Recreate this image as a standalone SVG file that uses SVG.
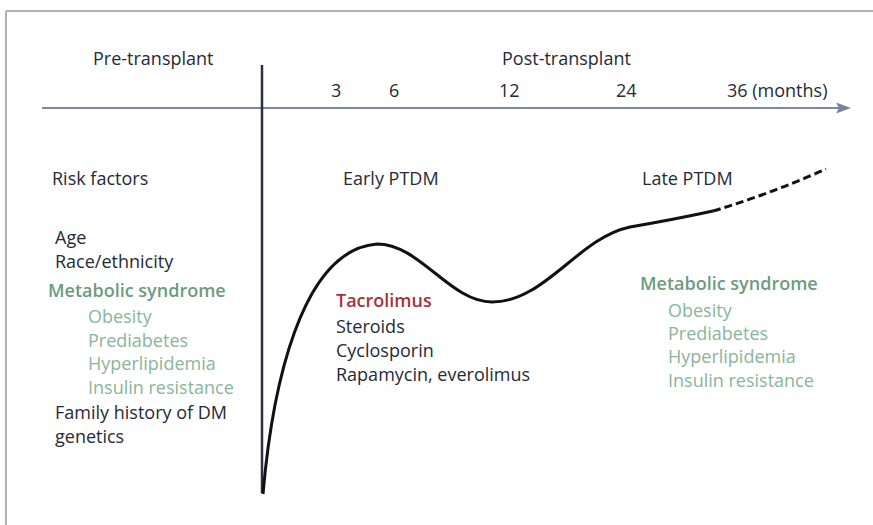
<svg xmlns="http://www.w3.org/2000/svg" width="873" height="525" viewBox="0 0 873 525">
<style>
text{font-family:"Open Sans","Liberation Sans",sans-serif;font-size:18px;fill:#262a38}
.g{fill:#6a9c80;font-weight:600}
.lg{fill:#88b69a}
.r{fill:#a8323c;font-weight:600}
</style>
<rect width="873" height="525" fill="#fff"/>
<g id="frame" stroke="#9a9a9a" stroke-width="1.5" fill="none">
<line x1="6" y1="11" x2="873" y2="11"/>
<line x1="6" y1="11" x2="6" y2="525"/>
</g>
<g id="connectors">
<line x1="42" y1="108" x2="840" y2="108" stroke="#8088a6" stroke-width="2"/>
<polygon points="851,108 836,102.5 839,108 836,113.5" fill="#7a82a2"/>
<line x1="262" y1="65" x2="262" y2="493" stroke="#2b3142" stroke-width="2.5"/>
<path d="M263,494 C272,390 300,250 377,244 C420,244 450,302 492,302 C545,302 578,238 630,227 C665,221 690,216 713,211" fill="none" stroke="#111" stroke-width="3"/>
<path d="M713,211 Q770,194 826,169" fill="none" stroke="#111" stroke-width="3" stroke-dasharray="8,4"/>
</g>
<g id="header">
<text x="93" y="65">Pre-transplant</text>
<text x="502" y="65">Post-transplant</text>
<text x="331" y="97">3</text>
<text x="389" y="97">6</text>
<text x="499" y="97">12</text>
<text x="616" y="97">24</text>
<text x="727" y="97">36 (months)</text>
</g>
<g id="risk-factors">
<text x="52" y="185">Risk factors</text>
<text x="55" y="244">Age</text>
<text x="55" y="268">Race/ethnicity</text>
<text class="g" x="48" y="297">Metabolic syndrome</text>
<text class="lg" x="88" y="323">Obesity</text>
<text class="lg" x="88" y="347">Prediabetes</text>
<text class="lg" x="88" y="370">Hyperlipidemia</text>
<text class="lg" x="88" y="394">Insulin resistance</text>
<text x="55" y="419">Family history of DM</text>
<text x="55" y="443">genetics</text>
</g>
<g id="early-ptdm">
<text x="343" y="185">Early PTDM</text>
<text class="r" x="336" y="307">Tacrolimus</text>
<text x="336" y="333">Steroids</text>
<text x="336" y="357">Cyclosporin</text>
<text x="336" y="381">Rapamycin, everolimus</text>
</g>
<g id="late-ptdm">
<text x="642" y="185">Late PTDM</text>
<text class="g" x="640" y="290">Metabolic syndrome</text>
<text class="lg" x="668" y="317">Obesity</text>
<text class="lg" x="668" y="340">Prediabetes</text>
<text class="lg" x="668" y="363">Hyperlipidemia</text>
<text class="lg" x="668" y="387">Insulin resistance</text>
</g>
</svg>
